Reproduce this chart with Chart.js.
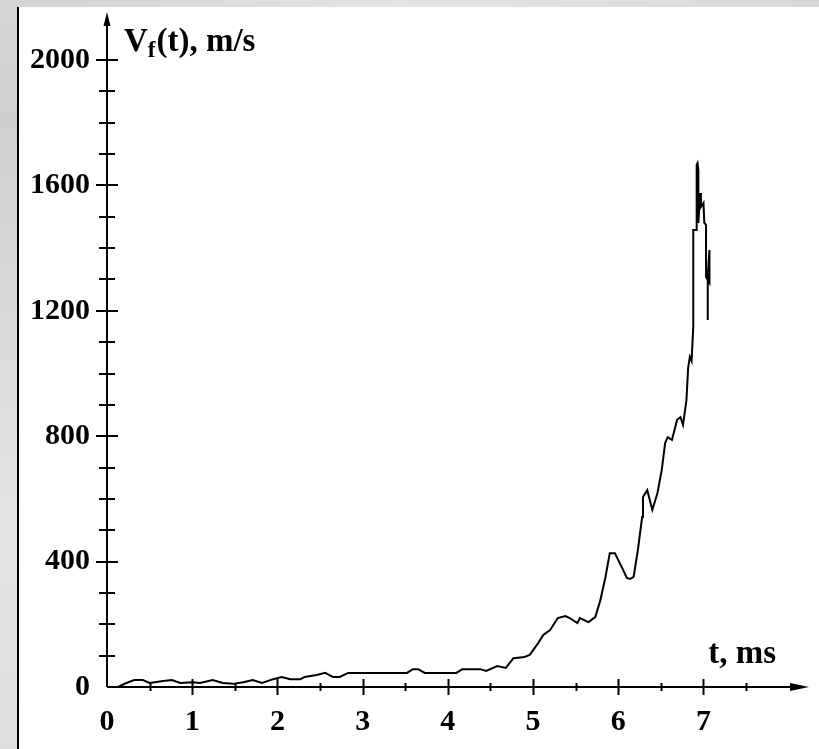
<!DOCTYPE html>
<html>
<head>
<meta charset="utf-8">
<script src="https://cdn.jsdelivr.net/npm/chart.js@4.4.1/dist/chart.umd.min.js"></script>
<style>
  html, body { margin: 0; padding: 0; }
  body {
    width: 819px; height: 749px; position: relative; overflow: hidden;
    background: radial-gradient(circle at 8px 120px, #cfcfcf 0, #e4e4e4 40%, #d2d2d2 100%);
  }
  #paper {
    position: absolute; left: 17px; top: 7px; right: 0; bottom: 0;
    background: #fff; border-left: 2px solid #000;
  }
  #chart { position: absolute; left: 0; top: 0; }
</style>
</head>
<body>
<div id="paper"></div>
<canvas id="chart" width="819" height="749"></canvas>
<script>
// time, ms
const tValues = [
  0.13, 0.22, 0.32, 0.42, 0.50, 0.58, 0.66, 0.76, 0.86, 1.00,
  1.09, 1.24, 1.36, 1.48, 1.60, 1.71, 1.82, 1.95, 2.05, 2.15,
  2.27, 2.32, 2.46, 2.56, 2.65, 2.73, 2.83, 3.52, 3.59, 3.65,
  3.73, 4.10, 4.17, 4.38, 4.45, 4.58, 4.68, 4.77, 4.90, 4.96,
  5.06, 5.12, 5.20, 5.29, 5.38, 5.43, 5.52, 5.55, 5.65, 5.73,
  5.79, 5.85, 5.90, 5.96, 6.04, 6.10, 6.14, 6.18, 6.23, 6.28,
  6.29, 6.34, 6.40, 6.46, 6.51, 6.55, 6.58, 6.63, 6.69, 6.73,
  6.76, 6.80, 6.82, 6.84, 6.86, 6.88, 6.88, 6.92, 6.92, 6.93,
  6.94, 6.94, 6.96, 6.97, 7.00, 7.01, 7.03, 7.03, 7.07, 7.07,
  7.05, 7.05
];
// front velocity, m/s
const vValues = [
  0, 12, 22, 22, 13, 16, 19, 22, 13, 15,
  13, 22, 13, 10, 15, 22, 13, 25, 32, 25,
  25, 32, 38, 45, 32, 32, 45, 45, 57, 57,
  45, 45, 57, 57, 51, 67, 61, 92, 96, 102,
  140, 166, 182, 220, 226, 220, 204, 220, 207, 223,
  277, 351, 427, 427, 383, 348, 345, 351, 437, 542,
  606, 628, 565, 619, 692, 778, 797, 788, 852, 861,
  836, 915, 1018, 1053, 1040, 1148, 1458, 1458, 1665, 1671,
  1649, 1480, 1576, 1531, 1544, 1480, 1474, 1308, 1289, 1394,
  1308, 1171
];
const xLabels = [0, 1, 2, 3, 4, 5, 6, 7];
const yLabels = [0, 400, 800, 1200, 1600, 2000];

const FONT = '"Liberation Serif", "Times New Roman", serif';

// axes with arrows and ticks crossing the lines
const axesPlugin = {
  id: 'axesPlugin',
  beforeDatasetsDraw(chart) {
    const { ctx, chartArea, scales: { x, y } } = chart;
    const x0 = x.getPixelForValue(0);
    const y0 = y.getPixelForValue(0);
    ctx.save();
    ctx.strokeStyle = '#000';
    ctx.fillStyle = '#000';
    ctx.lineWidth = 2;
    ctx.beginPath();
    ctx.moveTo(x0, y0);
    ctx.lineTo(x0, chartArea.top + 10);
    ctx.moveTo(x0, y0);
    ctx.lineTo(chartArea.right - 15, y0);
    ctx.stroke();
    // arrow heads
    ctx.beginPath();
    ctx.moveTo(x0, chartArea.top - 1);
    ctx.lineTo(x0 - 3.5, chartArea.top + 13);
    ctx.lineTo(x0 + 3.5, chartArea.top + 13);
    ctx.closePath();
    ctx.fill();
    ctx.beginPath();
    ctx.moveTo(chartArea.right - 1, y0);
    ctx.lineTo(chartArea.right - 20, y0 - 4);
    ctx.lineTo(chartArea.right - 20, y0 + 4);
    ctx.closePath();
    ctx.fill();
    // ticks
    ctx.beginPath();
    x.ticks.forEach(t => {
      if (t.value === 0) return;
      const px = Math.round(x.getPixelForValue(t.value)) + 0.5;
      const h = xLabels.includes(t.value) ? 8 : 4;
      ctx.moveTo(px, y0 - h);
      ctx.lineTo(px, y0 + h);
    });
    y.ticks.forEach(t => {
      if (t.value === 0) return;
      const py = Math.round(y.getPixelForValue(t.value));
      const h = yLabels.includes(t.value) ? 11 : 8;
      ctx.moveTo(x0 - h, py);
      ctx.lineTo(x0 + h, py);
    });
    ctx.stroke();
    ctx.restore();
  },
  afterDraw(chart) {
    const { ctx, chartArea, scales: { x, y } } = chart;
    const x0 = x.getPixelForValue(0);
    const y0 = y.getPixelForValue(0);
    ctx.save();
    ctx.fillStyle = '#000';
    ctx.textBaseline = 'alphabetic';
    ctx.textAlign = 'left';
    // V_f(t), m/s
    let px = x0 + 17;
    const base = chartArea.top + 38;
    ctx.font = 'bold 33px ' + FONT;
    ctx.fillText('V', px, base);
    px += ctx.measureText('V').width;
    ctx.font = 'bold 23px ' + FONT;
    ctx.fillText('f', px, base + 6);
    px += ctx.measureText('f').width + 1;
    ctx.font = 'bold 33px ' + FONT;
    ctx.fillText('(t), m/s', px, base);
    // t, ms
    ctx.textAlign = 'right';
    ctx.font = 'bold 33px ' + FONT;
    ctx.fillText('t, ms', chartArea.right - 34, y0 - 24);
    ctx.restore();
  }
};

new Chart(document.getElementById('chart'), {
  type: 'line',
  data: {
    datasets: [{
      data: tValues.map((t, i) => ({ x: t, y: vValues[i] })),
      borderColor: '#000',
      borderWidth: 2,
      pointRadius: 0,
      tension: 0,
      fill: false
    }]
  },
  options: {
    responsive: false,
    animation: false,
    layout: { padding: { top: 13, right: 9, left: 0, bottom: 0 } },
    plugins: { legend: { display: false }, tooltip: { enabled: false } },
    scales: {
      x: {
        type: 'linear',
        min: 0,
        max: 8.25,
        grid: { display: false, drawTicks: false },
        border: { display: false },
        afterBuildTicks: s => { s.ticks = s.ticks.filter(t => t.value <= 7.5); },
        afterFit: s => { s.height = 62; s.paddingLeft = 0; s.paddingRight = 0; },
        ticks: {
          stepSize: 0.5,
          autoSkip: false,
          maxRotation: 0,
          padding: 17,
          color: '#000',
          font: { family: FONT, size: 30, weight: 'bold' },
          callback: v => xLabels.includes(v) ? String(v) : ''
        }
      },
      y: {
        min: 0,
        max: 2150,
        grid: { display: false, drawTicks: false },
        border: { display: false },
        afterBuildTicks: s => { s.ticks = s.ticks.filter(t => t.value <= 2000); },
        afterFit: s => { s.width = 107; s.paddingTop = 0; s.paddingBottom = 0; },
        ticks: {
          stepSize: 100,
          autoSkip: false,
          padding: 17,
          color: '#000',
          font: { family: FONT, size: 30, weight: 'bold' },
          callback: v => yLabels.includes(v) ? String(v) : ''
        }
      }
    }
  },
  plugins: [axesPlugin]
});
</script>
</body>
</html>
